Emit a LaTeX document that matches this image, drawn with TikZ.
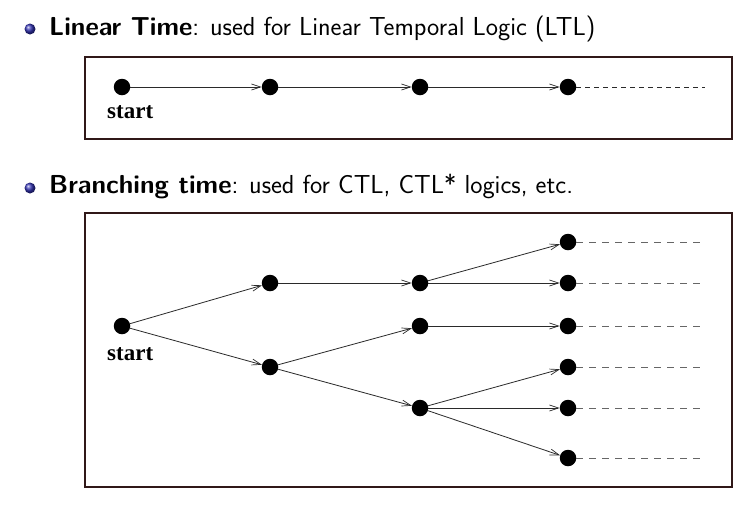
\documentclass[tikz,border=0pt]{standalone}
\usepackage{fontspec}
\newfontfamily\figfont{Liberation Serif}
\usetikzlibrary{arrows.meta}
\definecolor{framecol}{HTML}{301818}
\definecolor{edgecol}{HTML}{2A2A2A}
\definecolor{dashcol}{HTML}{666666}
\definecolor{ballcol}{HTML}{3333B3}
\tikzset{
  st/.style={circle,fill=black,inner sep=0pt,minimum size=16.5pt},
  edge/.style={draw=edgecol,line width=0.8pt,-{Straight Barb[length=9pt,width=6pt,line width=0.7pt]}},
  future/.style={draw=dashcol,line width=0.9pt,dash pattern=on 7pt off 6pt},
  futurea/.style={draw=edgecol,line width=0.8pt,dash pattern=on 5pt off 4pt},
  frame/.style={draw=framecol,line width=1.8pt},
  startlbl/.style={anchor=base west,inner sep=0pt,font=\figfont\bfseries\fontsize{23}{26}\selectfont},
  itemlbl/.style={anchor=base west,inner sep=0pt,font=\sffamily\fontsize{26}{30}\selectfont},
  bullet/.style={circle,inner sep=0pt,minimum size=11pt,shading=ball,ball color=ballcol}
}
\begin{document}
\begin{tikzpicture}[x=1pt,y=-1pt]
\useasboundingbox[fill=white] (0,0) rectangle (746,507);

% ---- Linear time ----
\node[bullet] (b1) at (30,29) {};
\node[itemlbl] (t1) at (49,35) {\textbf{Linear Time}: used for Linear Temporal Logic (LTL)};
\draw[frame] (85,57) rectangle (732,139);
\node[st] (p0) at (122,87) {};
\node[st] (p1) at (270,87) {};
\node[st] (p2) at (420,87) {};
\node[st] (p3) at (568,87) {};
\coordinate (p4) at (705,87);
\node[startlbl] (s1) at (107,118) {start};
\draw[edge] (p0) -- (p1);
\draw[edge] (p1) -- (p2);
\draw[edge] (p2) -- (p3);
\draw[futurea] (p3.east) -- (p4);

% ---- Branching time ----
\node[bullet] (b2) at (30,188) {};
\node[itemlbl] (t2) at (49,193) {\textbf{Branching time}: used for CTL, CTL* logics, etc.};
\draw[frame] (85,213) rectangle (732,487);
\node[st] (s) at (122,326) {};
\node[startlbl] (s2) at (107,360) {start};
\node[st] (u1) at (270,283) {};
\node[st] (d1) at (270,367) {};
\node[st] (a2) at (420,283) {};
\node[st] (b2n) at (420,326) {};
\node[st] (c2) at (420,408) {};
\node[st] (l1) at (568,242) {};
\node[st] (l2) at (568,283) {};
\node[st] (l3) at (568,326) {};
\node[st] (l4) at (568,367) {};
\node[st] (l5) at (568,408) {};
\node[st] (l6) at (568,458) {};
\draw[edge] (s) -- (u1);
\draw[edge] (s) -- (d1);
\draw[edge] (u1) -- (a2);
\draw[edge] (d1) -- (b2n);
\draw[edge] (d1) -- (c2);
\draw[edge] (a2) -- (l1);
\draw[edge] (a2) -- (l2);
\draw[edge] (b2n) -- (l3);
\draw[edge] (c2) -- (l4);
\draw[edge] (c2) -- (l5);
\draw[edge] (c2) -- (l6);
\foreach \n/\y in {l1/242,l2/283,l3/326,l4/367,l5/408,l6/458}{
  \coordinate (e\n) at (705,\y);
  \draw[future] (\n.east) -- (e\n);
}
\end{tikzpicture}
\end{document}
